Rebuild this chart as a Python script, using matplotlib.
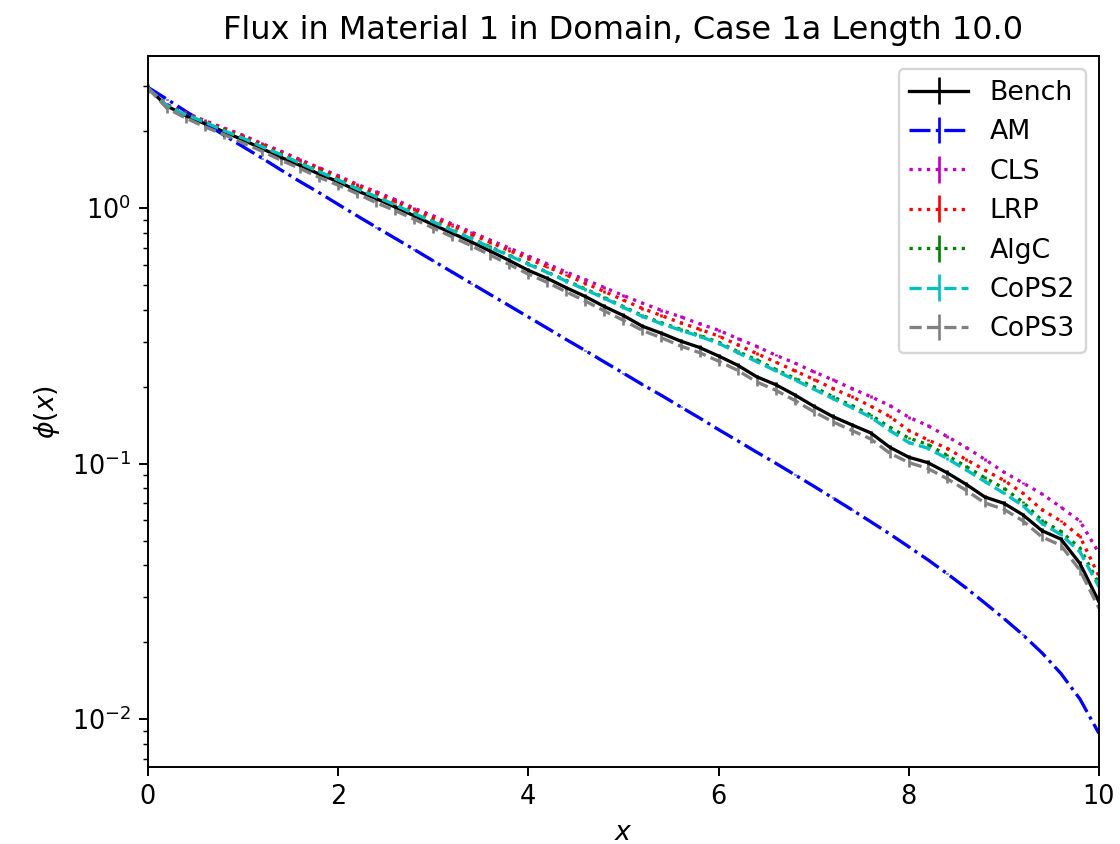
import matplotlib
matplotlib.use("Agg")
import matplotlib.pyplot as plt
import numpy as np

# ---- data -------------------------------------------------------------
x = [0.0, 0.2, 0.4, 0.6, 0.8, 1.0, 1.2, 1.4, 1.6, 1.8,
     2.0, 2.2, 2.4, 2.6, 2.8, 3.0, 3.2, 3.4, 3.6, 3.8,
     4.0, 4.2, 4.4, 4.6, 4.8, 5.0, 5.2, 5.4, 5.6, 5.8,
     6.0, 6.2, 6.4, 6.6, 6.8, 7.0, 7.2, 7.4, 7.6, 7.8,
     8.0, 8.2, 8.4, 8.6, 8.8, 9.0, 9.2, 9.4, 9.6, 9.8, 10.0]

bench = [2.95, 2.51, 2.30, 2.14, 1.99, 1.85, 1.71, 1.58, 1.47, 1.36,
         1.27, 1.17, 1.09, 1.01, 0.933, 0.861, 0.798, 0.738, 0.679, 0.624,
         0.571, 0.531, 0.488, 0.451, 0.412, 0.380, 0.345, 0.324, 0.302, 0.285,
         0.264, 0.243, 0.219, 0.204, 0.186, 0.168, 0.153, 0.142, 0.132, 0.116,
         0.106, 0.101, 0.0923, 0.0832, 0.0741, 0.0700, 0.0631, 0.0547, 0.0507, 0.0407, 0.0288]

am = [2.97, 2.67, 2.39, 2.15, 1.93, 1.74, 1.57, 1.41, 1.27, 1.15,
      1.035, 0.933, 0.843, 0.762, 0.689, 0.622, 0.562, 0.508, 0.459, 0.415,
      0.375, 0.339, 0.306, 0.277, 0.250, 0.226, 0.204, 0.185, 0.167, 0.151,
      0.136, 0.123, 0.111, 0.1005, 0.0906, 0.0817, 0.0735, 0.0661, 0.0593, 0.0531,
      0.0473, 0.0421, 0.0372, 0.0327, 0.0285, 0.0248, 0.0214, 0.0182, 0.0151, 0.0120, 0.0088]

cls = [2.95, 2.54, 2.36, 2.20, 2.06, 1.93, 1.79, 1.67, 1.55, 1.44,
       1.34, 1.24, 1.16, 1.08, 1.00, 0.933, 0.867, 0.807, 0.750, 0.698,
       0.650, 0.605, 0.562, 0.525, 0.489, 0.455, 0.425, 0.398, 0.376, 0.353,
       0.333, 0.309, 0.288, 0.266, 0.248, 0.229, 0.213, 0.197, 0.183, 0.169,
       0.152, 0.141, 0.128, 0.116, 0.104, 0.0927, 0.0841, 0.0762, 0.0676, 0.0596, 0.0447]

lrp = [2.95, 2.54, 2.34, 2.19, 2.04, 1.91, 1.78, 1.65, 1.53, 1.43,
       1.32, 1.23, 1.14, 1.06, 0.986, 0.916, 0.851, 0.791, 0.735, 0.682,
       0.634, 0.589, 0.547, 0.508, 0.472, 0.437, 0.405, 0.380, 0.356, 0.336,
       0.316, 0.292, 0.270, 0.250, 0.231, 0.214, 0.197, 0.183, 0.168, 0.153,
       0.135, 0.124, 0.115, 0.104, 0.0944, 0.0861, 0.0767, 0.0661, 0.0596, 0.0519, 0.0363]

algc = [2.95, 2.52, 2.33, 2.17, 2.02, 1.88, 1.75, 1.62, 1.50, 1.40,
        1.29, 1.20, 1.11, 1.03, 0.957, 0.887, 0.822, 0.762, 0.706, 0.655,
        0.607, 0.562, 0.521, 0.483, 0.447, 0.412, 0.380, 0.356, 0.336, 0.318,
        0.299, 0.275, 0.255, 0.234, 0.216, 0.200, 0.183, 0.169, 0.155, 0.139,
        0.126, 0.119, 0.108, 0.0977, 0.0881, 0.0802, 0.0708, 0.0600, 0.0543, 0.0468, 0.0339]

cops2 = [2.95, 2.52, 2.32, 2.17, 2.01, 1.88, 1.74, 1.62, 1.50, 1.39,
         1.29, 1.19, 1.11, 1.03, 0.952, 0.884, 0.818, 0.760, 0.702, 0.652,
         0.603, 0.560, 0.518, 0.480, 0.444, 0.409, 0.377, 0.353, 0.333, 0.315,
         0.296, 0.272, 0.251, 0.231, 0.213, 0.196, 0.180, 0.166, 0.152, 0.135,
         0.121, 0.115, 0.105, 0.0948, 0.0852, 0.0767, 0.0685, 0.0584, 0.0528, 0.0452, 0.0330]

cops3 = [2.95, 2.46, 2.25, 2.08, 1.94, 1.80, 1.67, 1.54, 1.43, 1.32,
         1.23, 1.14, 1.05, 0.978, 0.905, 0.836, 0.772, 0.713, 0.655, 0.602,
         0.552, 0.512, 0.470, 0.433, 0.396, 0.364, 0.332, 0.311, 0.289, 0.272,
         0.252, 0.232, 0.209, 0.194, 0.177, 0.160, 0.146, 0.135, 0.125, 0.110,
         0.101, 0.0958, 0.0875, 0.0788, 0.0702, 0.0663, 0.0598, 0.0517, 0.0479, 0.0383, 0.0272]

# relative statistical uncertainty of each series
rel_err = {"Bench": 0.02, "AM": 0.004, "CLS": 0.012, "LRP": 0.012,
           "AlgC": 0.012, "CoPS2": 0.012, "CoPS3": 0.04}

series = [
    ("Bench", bench, "k", "-"),
    ("AM", am, "b", "-."),
    ("CLS", cls, "m", ":"),
    ("LRP", lrp, "r", ":"),
    ("AlgC", algc, "g", ":"),
    ("CoPS2", cops2, "c", "--"),
    ("CoPS3", cops3, "gray", "--"),
]

# ---- figure -----------------------------------------------------------
fig = plt.figure(figsize=(6.4, 4.823), dpi=175)
ax = fig.add_axes([0.1321, 0.0912, 0.8491, 0.8424])

for name, vals, col, ls in series:
    v = np.asarray(vals, dtype=float)
    ax.errorbar(x, v, yerr=rel_err[name] * v, color=col, linestyle=ls,
                linewidth=1.35, elinewidth=1.1, label=name)

ax.set_yscale("log")
ax.set_xlim(0, 10)
ax.set_ylim(0.0065, 3.94)
ax.set_title("Flux in Material 1 in Domain, Case 1a Length 10.0", fontsize=13.2, pad=7)
ax.set_xlabel("$x$", fontsize=11)
ax.set_ylabel(r"$\phi(x)$", fontsize=11)
ax.tick_params(labelsize=10.5)
leg = ax.legend(loc="upper right", fontsize=11, handlelength=2.2)

fig.savefig("out.png", dpi=175)
